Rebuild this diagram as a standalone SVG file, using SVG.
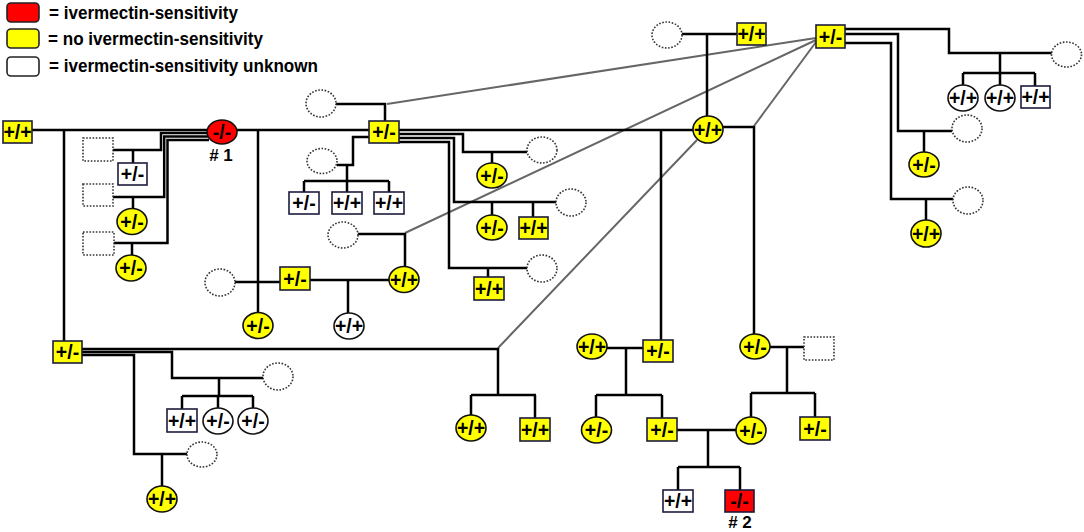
<svg xmlns="http://www.w3.org/2000/svg" width="1084" height="532" viewBox="0 0 1084 532">
<style>
.ln{fill:none;stroke:#000;stroke-width:2.5;stroke-linejoin:miter}
.gl{fill:none;stroke:#666;stroke-width:2}
.sq{stroke:#1c1c3c;stroke-width:1.6}
.ci{stroke:#111;stroke-width:1.6}
.y{fill:#ffff00}
.r{fill:#ff0000}
.w{fill:#fff}
.dot{fill:#fff;stroke:#333;stroke-width:1.6;stroke-dasharray:1.6 1.6}
.t{font-family:"Liberation Sans",Arial,sans-serif;font-weight:bold;font-size:19.5px;text-anchor:middle;fill:#000}
.lg{font-family:"Liberation Sans",Arial,sans-serif;font-weight:bold;font-size:18.5px;fill:#000}
.id{font-family:"Liberation Sans",Arial,sans-serif;font-weight:bold;font-size:17px;text-anchor:middle;fill:#000}
</style>
<rect width="1084" height="532" fill="#fff"/>
<g id="legend">
<rect x="7" y="3" width="32" height="19" rx="4" class="r" stroke="#222" stroke-width="1.6"/>
<rect x="7" y="29" width="32" height="19" rx="4" class="y" stroke="#222" stroke-width="1.6"/>
<rect x="7" y="57" width="32" height="19" rx="4" class="w" stroke="#222" stroke-width="1.6"/>
<text class="lg" x="49" y="18.5" textLength="189" lengthAdjust="spacingAndGlyphs">= ivermectin-sensitivity</text>
<text class="lg" x="48" y="45" textLength="215" lengthAdjust="spacingAndGlyphs">= no ivermectin-sensitivity</text>
<text class="lg" x="49" y="72" textLength="269" lengthAdjust="spacingAndGlyphs">= ivermectin-sensitivity unknown</text>
</g>
<g id="connectors">
<path class="gl" d="M387,104 L816,38 M405,233 L816,40 M754,126 L816,42 M697,140 L498,348"/>
<path class="ln" d="M32,130 H369 M399,130 H693 M723,127 H754 V334 M661,130 V340 M64,130 V341"/>
<path class="ln" d="M208,133 H161 V150 H113 M133,150 V163 M208,136.5 H164.2 V197 H113 M133,197 V208 M209,140 H167.5 V243 H114 M132,243 V255"/>
<path class="ln" d="M258,130 V313 M235,282 H280 M310,280 H389 M348,280 V313 M358,234 H405 V266"/>
<path class="ln" d="M336,104 H385 V121 M369,137 H353 V165 H337 M347,165 V181 M304,181 H389 M304,181 V192 M347,181 V192 M389,181 V192"/>
<path class="ln" d="M399,134 H463 V152 H527 M492,152 V163 M399,138 H454 V202 H556 M492,202 V215 M533,202 V217 M399,142 H449 V268 H527 M488,268 V277"/>
<path class="ln" d="M682,34 H737 M707,34 V116"/>
<path class="ln" d="M845,29 H949 V53 H1052 M1000,53 V73 M963,73 H1035 M963,73 V85 M1000,73 V85 M1035,73 V86 M845,34 H898 V131 H952 M924,131 V152 M845,43 H891 V199 H953 M926,199 V220"/>
<path class="ln" d="M82,349 H498 V395 M471,395 H536 M471,395 V415 M535,395 V418 M82,352 H172 V378 H263 M219,378 V396 M182,396 H253 M182,396 V409 M218,396 V408 M253,396 V408 M82,355 H134 V454 H187 M162,454 V486"/>
<path class="ln" d="M607,348 H643 M626,348 V395 M596,395 H662 M596,395 V417 M662,395 V418 M770,347 H804 M787,347 V393 M751,393 H815 M751,393 V417 M815,393 V417 M677,430 H736 M708,430 V467 M678,467 H740 M678,467 V490 M740,467 V490"/>
</g>
<g id="n1"><rect class="sq y" x="3" y="121" width="29" height="22"/><text class="t" x="17.5" y="139">+/+</text></g>
<g id="n2"><ellipse class="ci r" cx="222" cy="132" rx="15" ry="12"/><text class="t" x="222" y="139">-/-</text><text class="id" x="221" y="161"># 1</text></g>
<g id="n3"><rect class="dot" x="83" y="138" width="30" height="23"/></g>
<g id="n4"><rect class="sq w" x="118" y="163" width="29" height="22"/><text class="t" x="132.5" y="181">+/-</text></g>
<g id="n5"><rect class="dot" x="83" y="184" width="30" height="22"/></g>
<g id="n6"><ellipse class="ci y" cx="132" cy="221.5" rx="15" ry="13"/><text class="t" x="132" y="228.5">+/-</text></g>
<g id="n7"><rect class="dot" x="83" y="232" width="31" height="23"/></g>
<g id="n8"><ellipse class="ci y" cx="131" cy="268" rx="15" ry="13"/><text class="t" x="131" y="275">+/-</text></g>
<g id="n9"><ellipse class="dot" cx="220" cy="282.5" rx="15" ry="13.5"/></g>
<g id="n10"><ellipse class="ci y" cx="258" cy="325.5" rx="15" ry="13"/><text class="t" x="258" y="332.5">+/-</text></g>
<g id="n11"><rect class="sq y" x="280" y="267" width="30" height="23"/><text class="t" x="295" y="285.5">+/-</text></g>
<g id="n12"><ellipse class="ci y" cx="404" cy="279.5" rx="15" ry="13"/><text class="t" x="404" y="286.5">+/+</text></g>
<g id="n13"><ellipse class="ci w" cx="349" cy="326" rx="15" ry="13"/><text class="t" x="349" y="333">+/+</text></g>
<g id="n14"><ellipse class="dot" cx="343" cy="235" rx="15" ry="13"/></g>
<g id="n15"><ellipse class="dot" cx="321" cy="103.5" rx="15" ry="13.5"/></g>
<g id="n16"><rect class="sq y" x="369" y="121" width="30" height="22"/><text class="t" x="384" y="139">+/-</text></g>
<g id="n17"><ellipse class="dot" cx="322" cy="161" rx="15" ry="12.5"/></g>
<g id="n18"><rect class="sq w" x="289" y="192" width="30" height="22"/><text class="t" x="304" y="210">+/-</text></g>
<g id="n19"><rect class="sq w" x="332" y="192" width="30" height="22"/><text class="t" x="347" y="210">+/+</text></g>
<g id="n20"><rect class="sq w" x="374" y="192" width="30" height="22"/><text class="t" x="389" y="210">+/+</text></g>
<g id="n21"><ellipse class="dot" cx="542" cy="150" rx="15" ry="13"/></g>
<g id="n22"><ellipse class="ci y" cx="492" cy="175.5" rx="15" ry="12.5"/><text class="t" x="492" y="182.5">+/-</text></g>
<g id="n23"><ellipse class="dot" cx="571" cy="202.5" rx="15" ry="13.5"/></g>
<g id="n24"><ellipse class="ci y" cx="492" cy="227.5" rx="15" ry="12.5"/><text class="t" x="492" y="234.5">+/-</text></g>
<g id="n25"><rect class="sq y" x="519" y="217" width="29" height="22"/><text class="t" x="533.5" y="235">+/+</text></g>
<g id="n26"><ellipse class="dot" cx="542" cy="268.5" rx="15" ry="13.5"/></g>
<g id="n27"><rect class="sq y" x="474" y="277" width="30" height="23"/><text class="t" x="489" y="295.5">+/+</text></g>
<g id="n28"><ellipse class="dot" cx="667" cy="35" rx="15" ry="13"/></g>
<g id="n29"><rect class="sq y" x="737" y="23" width="29" height="22"/><text class="t" x="751.5" y="41">+/+</text></g>
<g id="n30"><ellipse class="ci y" cx="708" cy="129.5" rx="15" ry="13.5"/><text class="t" x="708" y="136.5">+/+</text></g>
<g id="n31"><rect class="sq y" x="816" y="25" width="29" height="23"/><text class="t" x="830.5" y="43.5">+/-</text></g>
<g id="n32"><ellipse class="dot" cx="1066.5" cy="54.5" rx="15" ry="12.5"/></g>
<g id="n33"><ellipse class="ci w" cx="963" cy="98" rx="15" ry="13"/><text class="t" x="963" y="105">+/+</text></g>
<g id="n34"><ellipse class="ci w" cx="1000" cy="98" rx="15" ry="13"/><text class="t" x="1000" y="105">+/+</text></g>
<g id="n35"><rect class="sq w" x="1021" y="86" width="29" height="22"/><text class="t" x="1035.5" y="104">+/+</text></g>
<g id="n36"><ellipse class="dot" cx="967" cy="128.5" rx="15" ry="13.5"/></g>
<g id="n37"><ellipse class="ci y" cx="924" cy="164.5" rx="15" ry="12.5"/><text class="t" x="924" y="171.5">+/-</text></g>
<g id="n38"><ellipse class="dot" cx="968" cy="200.5" rx="15" ry="13.5"/></g>
<g id="n39"><ellipse class="ci y" cx="926" cy="233.5" rx="15" ry="13.5"/><text class="t" x="926" y="240.5">+/+</text></g>
<g id="n40"><rect class="sq y" x="53" y="341" width="29" height="22"/><text class="t" x="67.5" y="359">+/-</text></g>
<g id="n41"><ellipse class="dot" cx="278" cy="376.5" rx="15" ry="13.5"/></g>
<g id="n42"><rect class="sq w" x="167" y="409" width="30" height="23"/><text class="t" x="182" y="427.5">+/+</text></g>
<g id="n43"><ellipse class="ci w" cx="218" cy="421" rx="15" ry="13"/><text class="t" x="218" y="428">+/-</text></g>
<g id="n44"><ellipse class="ci w" cx="253" cy="421" rx="15" ry="13"/><text class="t" x="253" y="428">+/-</text></g>
<g id="n45"><ellipse class="dot" cx="202" cy="454.5" rx="15" ry="12.5"/></g>
<g id="n46"><ellipse class="ci y" cx="162" cy="499" rx="15" ry="13"/><text class="t" x="162" y="506">+/+</text></g>
<g id="n47"><ellipse class="ci y" cx="471" cy="428" rx="15" ry="13"/><text class="t" x="471" y="435">+/+</text></g>
<g id="n48"><rect class="sq y" x="520" y="418" width="30" height="23"/><text class="t" x="535" y="436.5">+/+</text></g>
<g id="n49"><ellipse class="ci y" cx="592" cy="346.5" rx="15" ry="12.5"/><text class="t" x="592" y="353.5">+/+</text></g>
<g id="n50"><rect class="sq y" x="643" y="340" width="30" height="22"/><text class="t" x="658" y="358">+/-</text></g>
<g id="n51"><ellipse class="ci y" cx="755" cy="346.5" rx="15" ry="12.5"/><text class="t" x="755" y="353.5">+/-</text></g>
<g id="n52"><rect class="dot" x="804" y="337" width="30" height="23"/></g>
<g id="n53"><ellipse class="ci y" cx="596.5" cy="430" rx="15" ry="13"/><text class="t" x="596.5" y="437">+/-</text></g>
<g id="n54"><rect class="sq y" x="647" y="418" width="30" height="23"/><text class="t" x="662" y="436.5">+/-</text></g>
<g id="n55"><ellipse class="ci y" cx="751" cy="430.5" rx="15" ry="13.5"/><text class="t" x="751" y="437.5">+/-</text></g>
<g id="n56"><rect class="sq y" x="800" y="417" width="30" height="23"/><text class="t" x="815" y="435.5">+/-</text></g>
<g id="n57"><rect class="sq w" x="663" y="490" width="30" height="22"/><text class="t" x="678" y="508">+/+</text></g>
<g id="n58"><rect class="sq r" x="725" y="490" width="29" height="22"/><text class="t" x="739.5" y="508">-/-</text><text class="id" x="740" y="528"># 2</text></g>
</svg>
